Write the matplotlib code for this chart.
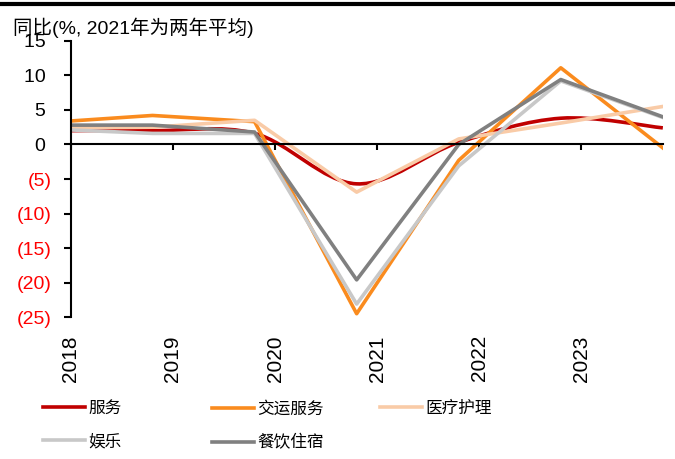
import numpy as np
import matplotlib.pyplot as plt
from matplotlib.path import Path
from matplotlib.patches import PathPatch
from matplotlib.lines import Line2D

plt.rcParams['font.family'] = ['Liberation Sans', 'Noto Sans CJK SC']

# data points sit at year-end (approx .8 of each year); first one at the axis start
xpos = [2018.0, 2018.8, 2019.8, 2020.8, 2021.8, 2022.8, 2023.8]
years = [2018, 2019, 2020, 2021, 2022, 2023]
year_labels = [str(y) for y in years]

services = [2.0, 2.0, 1.6, -5.7, 0.3, 3.8, 2.4]          # 服务 (smoothed)
transport = [3.4, 4.2, 3.3, -24.5, -2.3, 11.1, -0.5]     # 交运服务
medical = [2.4, 2.5, 3.5, -6.9, 0.8, 3.1, 5.5]           # 医疗护理
recreation = [2.1, 1.6, 1.6, -23.1, -3.1, 9.2, 3.9]      # 娱乐
food_lodging = [2.8, 2.8, 1.8, -19.6, 0.0, 9.4, 4.0]     # 餐饮住宿

yticks = list(range(-25, 16, 5))


def smooth_path(xs, ys):
    """Catmull-Rom style bezier through the points (like Excel's smoothed line)."""
    p = np.column_stack([xs, ys])
    ext = np.vstack([p[0], p, p[-1]])
    verts = [p[0]]
    codes = [Path.MOVETO]
    for i in range(len(p) - 1):
        p0, p1, p2, p3 = ext[i], ext[i + 1], ext[i + 2], ext[i + 3]
        verts += [p1 + (p2 - p0) / 6, p2 - (p3 - p1) / 6, p2]
        codes += [Path.CURVE4] * 3
    return Path(verts, codes)


fig = plt.figure(figsize=(6.75, 4.59), dpi=100)
ax = fig.add_axes([0.105, 0.309, 0.877, 0.602])

LW = 2.6
red = PathPatch(smooth_path(xpos, services), fill=False, edgecolor='#C00000', lw=LW)
ax.add_patch(red)
h_red = Line2D([], [], color='#C00000', lw=LW)
h_or, = ax.plot(xpos, transport, color='#FA8B1E', lw=LW)
h_med, = ax.plot(xpos, medical, color='#F9CBA7', lw=LW)
h_rec, = ax.plot(xpos, recreation, color='#C8C8C8', lw=LW)
h_food, = ax.plot(xpos, food_lodging, color='#808080', lw=LW)

ax.set_xlim(2018, 2023.8)
ax.set_ylim(-25, 15)
ax.spines['top'].set_visible(False)
ax.spines['right'].set_visible(False)
ax.spines['bottom'].set_position(('data', 0))
ax.spines['bottom'].set_linewidth(1.5)
ax.spines['left'].set_linewidth(1.5)

ax.set_xticks(years)
ax.tick_params(axis='x', direction='out', length=4, width=1.5, labelbottom=False)

sec = ax.secondary_xaxis(0)
sec.spines['bottom'].set_visible(False)
sec.set_xticks(years)
sec.set_xticklabels(year_labels, rotation=90, fontsize=15)
sec.tick_params(length=0, pad=13)

ax.set_yticks(yticks)
ax.set_yticklabels([f'({-v})' if v < 0 else f'{v} ' for v in yticks])
ax.tick_params(axis='y', direction='out', length=5, width=1.5, labelsize=14, pad=9)
for lab, v in zip(ax.get_yticklabels(), yticks):
    lab.set_color('red' if v < 0 else 'black')

fig.text(13 / 675, 1 - 28 / 459, '同比(%, 2021年为两年平均)', fontsize=14,
         ha='left', va='center')

fig.add_artist(Line2D([0, 1], [0.991, 0.991], color='black', lw=3,
                      transform=fig.transFigure))

leg_kw = dict(loc='upper left', frameon=False, fontsize=12, handlelength=2.5,
              handletextpad=0.2, labelspacing=1.05, borderpad=0, borderaxespad=0)
top = 1 - 401 / 459
fig.legend([h_red, h_rec], ['服务', '娱乐'], bbox_to_anchor=(43 / 675, top), **leg_kw)
fig.legend([h_or, h_food], ['交运服务', '餐饮住宿'], bbox_to_anchor=(212 / 675, top), **leg_kw)
fig.legend([h_med], ['医疗护理'], bbox_to_anchor=(380 / 675, top), **leg_kw)

fig.savefig('out.png', dpi=100)
